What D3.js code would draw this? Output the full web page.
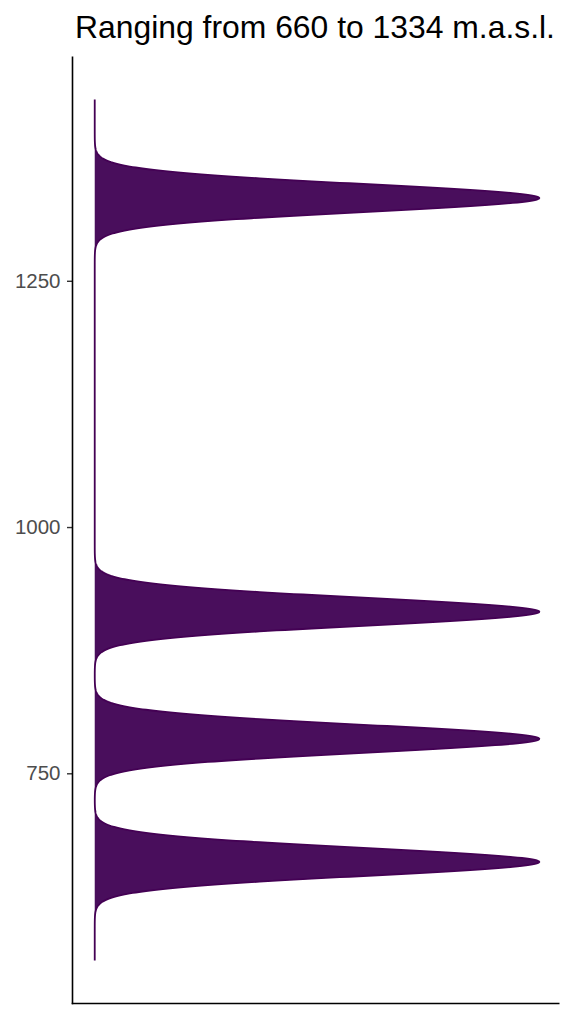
<!DOCTYPE html>
<html>
<head>
<meta charset="utf-8">
<script src="https://cdn.jsdelivr.net/npm/d3@7"></script>
<style>
  html, body { margin: 0; padding: 0; background: #fff; }
  svg { display: block; }
</style>
</head>
<body>
<script>
// ---- data ----
const siteElevations = [660, 785, 914, 1334];   // m.a.s.l. (one kernel per site)
const bandwidth = 14.2;                         // gaussian kernel sd, m
const yTicks = [750, 1000, 1250];
const titleText = "Ranging from 660 to 1334 m.a.s.l.";

const W = 574, H = 1024;
const panel = { left: 72.5, right: 561.5, top: 56.5, bottom: 1003.5 };

const svg = d3.select("body").append("svg").attr("width", W).attr("height", H);

// gaussian kernel density evaluated along the elevation range
const lo = d3.min(siteElevations) - 100, hi = d3.max(siteElevations) + 100;
const grid = d3.range(lo, hi + 0.001, 0.5);
const kernel = u => Math.exp(-0.5 * u * u);
const dens = grid.map(e => ({
  elev: e,
  d: d3.sum(siteElevations, s => kernel((e - s) / bandwidth))
}));
const dMax = d3.max(dens, p => p.d);

const yPad = (hi - lo) * 0.05, xPad = dMax * 0.05;
const y = d3.scaleLinear().domain([lo - yPad, hi + yPad]).range([panel.bottom, panel.top]);
const x = d3.scaleLinear().domain([-xPad, dMax + xPad]).range([panel.left, panel.right]);

const area = d3.area().y(p => y(p.elev)).x0(x(0)).x1(p => x(p.d));
const line = d3.line().y(p => y(p.elev)).x(p => x(p.d));

svg.append("path").datum(dens).attr("d", area)
  .attr("fill", "#490E5C").attr("stroke", "none");
svg.append("path").datum(dens).attr("d", line)
  .attr("fill", "none").attr("stroke", "#440154").attr("stroke-width", 1.8);

// axes
const yAxis = d3.axisLeft(y).tickValues(yTicks).tickSize(5.5).tickPadding(6.5).tickFormat(d3.format("d"));
const gy = svg.append("g").attr("transform", `translate(${panel.left},0)`).call(yAxis);
gy.select(".domain").remove();
gy.selectAll(".tick line").attr("stroke", "#333333").attr("stroke-width", 1.4);
gy.selectAll(".tick text").attr("fill", "#4D4D4D")
  .style("font-family", "'Liberation Sans', Arial, sans-serif").style("font-size", "20.5px");

svg.append("line").attr("x1", panel.left).attr("x2", panel.left)
  .attr("y1", panel.top).attr("y2", panel.bottom + 0.7)
  .attr("stroke", "#000").attr("stroke-width", 1.6);
svg.append("line").attr("x1", panel.left - 0.8).attr("x2", panel.right - 2)
  .attr("y1", panel.bottom).attr("y2", panel.bottom)
  .attr("stroke", "#000").attr("stroke-width", 1.6);

// title
const t = svg.append("text").text(titleText)
  .attr("x", 315).attr("y", 38)
  .attr("text-anchor", "middle").attr("fill", "#000")
  .style("font-family", "'Liberation Sans', Arial, sans-serif").style("font-size", "100px");
const w100 = t.node().getComputedTextLength();
t.style("font-size", (100 * 480 / w100) + "px");
</script>
</body>
</html>
